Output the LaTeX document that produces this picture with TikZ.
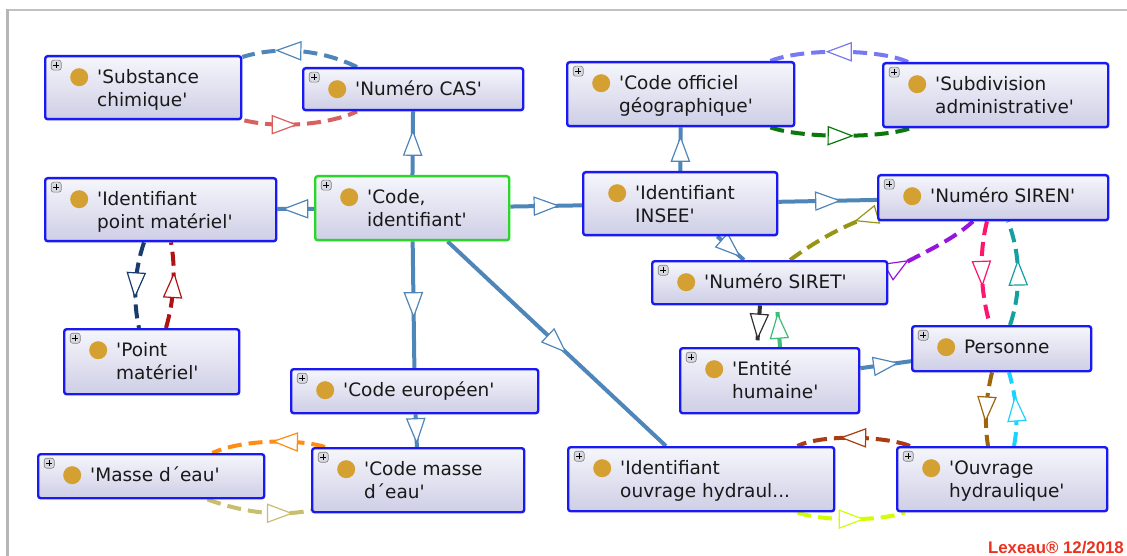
\documentclass[tikz,border=0pt]{standalone}
\usepackage{fontspec}
\newfontfamily\owlfont{DejaVu Sans}[Ligatures=TeXOff]
\newfontfamily\footfont{Liberation Sans}
\usetikzlibrary{calc,backgrounds,decorations.markings}

\definecolor{boxblue}{RGB}{25,25,245}
\definecolor{boxgreen}{RGB}{40,215,40}
\definecolor{boxtop}{RGB}{246,246,252}
\definecolor{boxbot}{RGB}{206,206,230}
\definecolor{dotgold}{RGB}{212,160,50}
\definecolor{plusfill}{RGB}{215,218,225}
\definecolor{textdark}{RGB}{25,25,25}
\definecolor{framegray}{RGB}{182,182,182}
\definecolor{isablue}{RGB}{78,134,186}
\definecolor{substred}{RGB}{215,96,96}
\definecolor{ptnavy}{RGB}{25,60,110}
\definecolor{ptred}{RGB}{175,20,20}
\definecolor{geolav}{RGB}{120,120,245}
\definecolor{geogreen}{RGB}{10,120,10}
\definecolor{sirolive}{RGB}{150,150,20}
\definecolor{sirpurple}{RGB}{150,20,220}
\definecolor{perspink}{RGB}{255,20,110}
\definecolor{persteal}{RGB}{20,160,160}
\definecolor{entblack}{RGB}{50,50,50}
\definecolor{entgreen}{RGB}{60,190,120}
\definecolor{ouvbrown}{RGB}{160,100,10}
\definecolor{ouvcyan}{RGB}{30,210,255}
\definecolor{ouvrust}{RGB}{170,60,20}
\definecolor{ouvlime}{RGB}{210,255,0}
\definecolor{masorange}{RGB}{255,140,20}
\definecolor{maskhaki}{RGB}{200,190,110}
\definecolor{footred}{RGB}{235,50,30}

\begin{document}
\begin{tikzpicture}[x=1pt, y=-1pt,
        cls/.style={draw=boxblue, line width=2.4pt, rounded corners=2.5pt, top color=boxtop, bottom color=boxbot, anchor=north west, inner sep=0pt, icons},
        icons/.style={path picture={
            \fill[dotgold] ($(path picture bounding box.north west)+(34,21)$) circle (9pt);
            \draw[gray, fill=plusfill, line width=0.6pt] ($(path picture bounding box.north west)+(6,4)$) rectangle ++(10,10);
            \draw[black, line width=1.1pt] ($(path picture bounding box.north west)+(8,9)$) -- ++(6,0) ($(path picture bounding box.north west)+(11,6)$) -- ++(0,6);
        }},
        dotonly/.style={path picture={
            \fill[dotgold] ($(path picture bounding box.north west)+(34,21)$) circle (9pt);
        }},
        txt/.style={font=\owlfont\fontsize{18.5}{23}\selectfont, text=textdark, align=left, anchor=base west, inner sep=0pt},
        isa/.style={color=isablue, line width=4pt, midtri},
        prop/.style={color=#1, line width=4pt, dash pattern=on 14pt off 7pt},
        midtri/.style={postaction={decorate, decoration={markings, mark=at position #1 with {\draw[solid, line width=1.2pt, fill=white] (12pt,0pt) -- (-12pt,9pt) -- (-12pt,-9pt) -- cycle;}}}},
        midtri/.default=0.5,
        revtri/.style={postaction={decorate, decoration={markings, mark=at position 0.999 with {\draw[solid, line width=1.2pt, fill=white] (0pt,9pt) -- (-22pt,0pt) -- (0pt,-9pt) -- cycle;}}}},
        stamp/.style={font=\footfont\bfseries\fontsize{16.8}{20}\selectfont, text=footred, anchor=base west, inner sep=0pt}
    ]

    \useasboundingbox (0,0) rectangle (1127,556);
    \begin{scope}[on background layer]
    \fill[white] (0,0) rectangle (1127,556);
    \end{scope}

    % --- Window frame ---
    \draw[framegray!85, line width=2pt] (7,10) -- (1127,10);
    \draw[framegray, line width=3pt] (7,556) -- (7,9);

    % --- Left part ---
    \node[cls, minimum width=196, minimum height=63] (subst) at (44,55) {};
    \node[txt] (subst-t) at ($(subst.north west)+(53,51.5)$) {'Substance\\chimique'};
    \node[cls, minimum width=220, minimum height=42] (cas) at (302,67) {};
    \node[txt] (cas-t) at ($(cas.north west)+(53,28.5)$) {'Numéro CAS'};
    \node[cls, minimum width=231, minimum height=63] (ipm) at (44,177) {};
    \node[txt] (ipm-t) at ($(ipm.north west)+(53,51.5)$) {'Identifiant\\point matériel'};
    \node[cls, draw=boxgreen, minimum width=194, minimum height=64] (code) at (314,175) {};
    \node[txt] (code-t) at ($(code.north west)+(53,51.5)$) {'Code,\\identifiant'};
    \node[cls, minimum width=175, minimum height=65] (pm) at (63,328) {};
    \node[txt] (pm-t) at ($(pm.north west)+(53,51.5)$) {'Point\\matériel'};
    \node[cls, minimum width=247, minimum height=44] (euro) at (290,368) {};
    \node[txt] (euro-t) at ($(euro.north west)+(53,28.5)$) {'Code européen'};
    \node[cls, minimum width=212, minimum height=64] (cme) at (311,447) {};
    \node[txt] (cme-t) at ($(cme.north west)+(53,51.5)$) {'Code masse\\d´eau'};
    \node[cls, minimum width=226, minimum height=44] (masse) at (37,453) {};
    \node[txt] (masse-t) at ($(masse.north west)+(53,28.5)$) {'Masse d´eau'};

    % --- Right part ---
    \node[cls, minimum width=227, minimum height=64] (cog) at (566,61) {};
    \node[txt] (cog-t) at ($(cog.north west)+(53,51.5)$) {'Code officiel\\géographique'};
    \node[cls, minimum width=225, minimum height=64] (subdiv) at (882,62) {};
    \node[txt] (subdiv-t) at ($(subdiv.north west)+(53,51.5)$) {'Subdivision\\administrative'};
    \node[cls, dotonly, minimum width=194, minimum height=63] (insee) at (582,171) {};
    \node[txt] (insee-t) at ($(insee.north west)+(53,51.5)$) {'Identifiant\\INSEE'};
    \node[cls, minimum width=230, minimum height=45] (siren) at (877,174) {};
    \node[txt] (siren-t) at ($(siren.north west)+(53,28.5)$) {'Numéro SIREN'};
    \node[cls, minimum width=235, minimum height=43] (siret) at (651,260) {};
    \node[txt] (siret-t) at ($(siret.north west)+(53,28.5)$) {'Numéro SIRET'};
    \node[cls, minimum width=179, minimum height=65] (entite) at (679,347) {};
    \node[txt] (entite-t) at ($(entite.north west)+(53,51.5)$) {'Entité\\humaine'};
    \node[cls, minimum width=179, minimum height=45] (personne) at (911,325) {};
    \node[txt] (personne-t) at ($(personne.north west)+(53,28.5)$) {Personne};
    \node[cls, minimum width=266, minimum height=64] (idouv) at (567,446) {};
    \node[txt] (idouv-t) at ($(idouv.north west)+(53,51.5)$) {'Identifiant\\ouvrage hydraul...};
    \node[cls, minimum width=210, minimum height=64] (ouvrage) at (896,446) {};
    \node[txt] (ouvrage-t) at ($(ouvrage.north west)+(53,51.5)$) {'Ouvrage\\hydraulique'};

    \node[stamp, anchor=base east] (lexeau) at (1124,553) {Lexeau® 12/2018};

    \begin{scope}[on background layer]
    % --- Subclass links ---
    \draw[isa] (code) -- (cas);
    \draw[isa] (code) -- (ipm);
    \draw[isa] (code) -- (insee);
    \draw[isa] (code) -- (euro);
    \draw[isa] (code) -- (idouv);
    \draw[isa] (euro) -- (cme);
    \draw[isa] (insee) -- (cog);
    \draw[isa] (insee) -- (siren);
    \draw[isa] (insee) -- (siret);
    \draw[isa] (entite) -- (personne);

    % --- Properties ---
    \draw[prop=isablue, midtri=0.6] ($(cas.north west)+(55,0)$) .. controls ($(cas.north west)+(18,-18)$) and ($(subst.north east)+(35,-9)$) .. ($(subst.north east)+(0,2)$);
    \draw[prop=substred, midtri=0.35] ($(subst.south east)+(2,0)$) .. controls ($(subst.south east)+(40,9)$) and ($(cas.south west)+(30,12)$) .. ($(cas.south west)+(55,0)$);
    \draw[prop=ptnavy, midtri] ($(ipm.south west)+(100,0)$) .. controls ($(ipm.south west)+(90,30)$) and ($(pm.north west)+(70,-28)$) .. ($(pm.north west)+(76,0)$);
    \draw[prop=ptred, midtri] ($(pm.north west)+(103,0)$) .. controls ($(pm.north west)+(111,-28)$) and ($(ipm.south west)+(132,28)$) .. ($(ipm.south west)+(127,0)$);
    \draw[prop=geolav, midtri] ($(subdiv.north west)+(26,0)$) .. controls ($(subdiv.north west)+(-2,-13)$) and ($(cog.north east)+(7,-13)$) .. ($(cog.north east)+(-25,0)$);
    \draw[prop=geogreen, midtri] ($(cog.south east)+(-25,0)$) .. controls ($(cog.south east)+(7,11)$) and ($(subdiv.south west)+(-2,10)$) .. ($(subdiv.south west)+(28,0)$);
    \draw[prop=sirolive, revtri] ($(siret.north west)+(139,0)$) .. controls ($(siret.north west)+(169,-22)$) and ($(siren.south west)+(-27,1)$) .. ($(siren.south west)+(0,-7)$);
    \draw[prop=sirpurple, revtri] ($(siren.south west)+(96,0)$) .. controls ($(siren.south west)+(73,21)$) and ($(siret.north east)+(29,-5)$) .. ($(siret.north east)+(0,12)$);
    \draw[prop=perspink, midtri] ($(siren.south west)+(110,0)$) .. controls ($(siren.south west)+(102,31)$) and ($(personne.north west)+(69,-35)$) .. ($(personne.north west)+(79,0)$);
    \draw[prop=persteal, midtri] ($(personne.north west)+(99,0)$) .. controls ($(personne.north west)+(111,-35)$) and ($(siren.south west)+(143,31)$) .. ($(siren.south west)+(131,0)$);
    \draw[prop=entblack, midtri] ($(siret.south west)+(109,0)$) -- ($(entite.north west)+(78,0)$);
    \draw[prop=entgreen, midtri] ($(entite.north west)+(101,0)$) -- ($(siret.south west)+(126,0)$);
    \draw[prop=ouvbrown, midtri] ($(personne.south west)+(81,0)$) .. controls ($(personne.south west)+(75,25)$) and ($(ouvrage.north west)+(88,-26)$) .. ($(ouvrage.north west)+(92,0)$);
    \draw[prop=ouvcyan, midtri] ($(ouvrage.north west)+(118,0)$) .. controls ($(ouvrage.north west)+(123,-26)$) and ($(personne.south west)+(105,25)$) .. ($(personne.south west)+(98,0)$);
    \draw[prop=ouvrust, midtri] ($(ouvrage.north west)+(14,0)$) .. controls ($(ouvrage.north west)+(-11,-10)$) and ($(idouv.north east)+(-13,-12)$) .. ($(idouv.north east)+(-38,0)$);
    \draw[prop=ouvlime, midtri] ($(idouv.south east)+(-38,0)$) .. controls ($(idouv.south east)+(-13,9)$) and ($(ouvrage.south west)+(-16,9)$) .. ($(ouvrage.south west)+(9,0)$);
    \draw[prop=masorange, midtri=0.35] ($(cme.north west)+(14,0)$) .. controls ($(cme.north west)+(-11,-8)$) and ($(masse.north east)+(-23,-14)$) .. ($(masse.north east)+(-53,0)$);
    \draw[prop=maskhaki, midtri=0.7] ($(masse.south east)+(-58,0)$) .. controls ($(masse.south east)+(-33,9)$) and ($(cme.south west)+(-41,5)$) .. ($(cme.south west)+(0,-3)$);
    \end{scope}

\end{tikzpicture}
\end{document}
